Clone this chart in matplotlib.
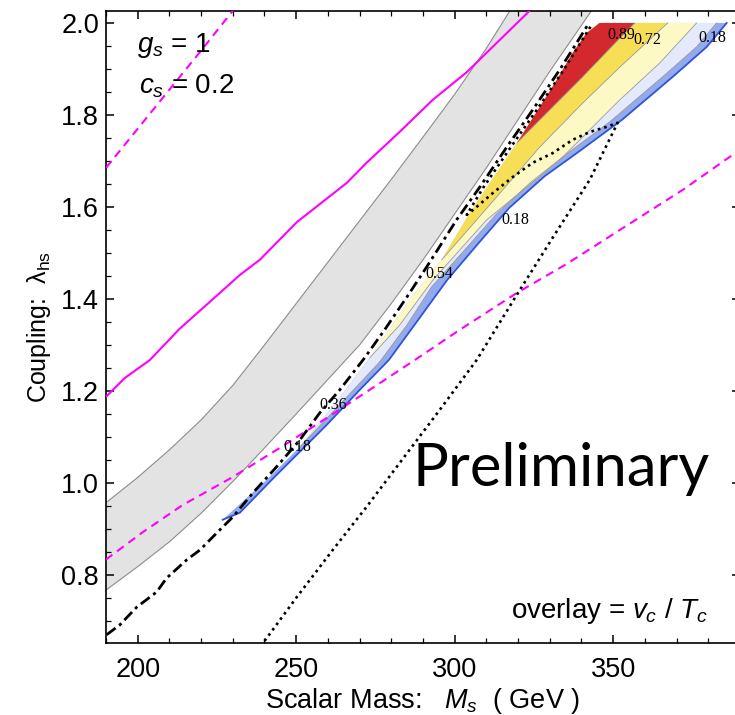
import numpy as np
import matplotlib
matplotlib.use("Agg")
import matplotlib.pyplot as plt

plt.rcParams['font.family'] = ['Liberation Sans', 'DejaVu Sans']
plt.rcParams['mathtext.fontset'] = 'custom'
plt.rcParams['mathtext.rm'] = 'Liberation Sans'
plt.rcParams['mathtext.it'] = 'Liberation Sans:italic'

# gray band (upper / lower edge)
band_up_m = [190, 200, 210, 220, 230, 240, 250, 260, 270, 280, 290, 300, 310, 318]
band_up_l = [0.957, 1.012, 1.072, 1.137, 1.212, 1.30, 1.39, 1.48, 1.57, 1.66, 1.752, 1.845, 1.945, 2.033]
band_lo_m = [190, 200, 210, 220, 230, 240, 250, 260, 270, 280, 290, 300, 310, 320, 330, 340, 345]
band_lo_l = [0.767, 0.818, 0.872, 0.934, 1.003, 1.076, 1.150, 1.225, 1.300, 1.390, 1.485, 1.585, 1.685, 1.79, 1.895, 1.995, 2.045]

# magenta curves
mag_solid_m = [190.1, 195.9, 203.8, 213.2, 225.9, 232.2, 238.5, 250.2, 265.9, 272.2, 282.6, 293.1, 303.8, 314.2, 324.6]
mag_solid_l = [1.188, 1.228, 1.267, 1.335, 1.413, 1.452, 1.485, 1.567, 1.652, 1.696, 1.763, 1.833, 1.893, 1.963, 2.033]
mag_dash_hi_m = [190, 200, 210, 220, 231]
mag_dash_hi_l = [1.685, 1.77, 1.855, 1.94, 2.035]
mag_dash_lo_m = [189.9, 201.6, 214.2, 230.0, 244.8, 259.6, 272.2, 288.9, 301.6, 319.6, 335.3, 352.1, 371.9, 389.9]
mag_dash_lo_l = [0.833, 0.893, 0.952, 1.013, 1.076, 1.141, 1.198, 1.274, 1.333, 1.413, 1.476, 1.550, 1.637, 1.724]

# black dash-dot curve
dd_m = [190.2, 194.3, 199.7, 206.0, 209.1, 215.5, 219.6, 224.9, 230.0, 236.3, 243.8, 251.1, 257.4, 263.7,
        271.6, 277.9, 284.9, 291.2, 300.6, 307.9, 316.4, 324.6, 333.1, 338.5, 342.0]
dd_l = [0.670, 0.691, 0.730, 0.763, 0.793, 0.833, 0.854, 0.891, 0.926, 0.978, 1.035, 1.093, 1.152, 1.202,
        1.272, 1.333, 1.404, 1.470, 1.572, 1.643, 1.730, 1.811, 1.898, 1.957, 1.996]

# black dotted curve
dot_m = [238.8, 250.2, 261.5, 272.2, 282.6, 295.3, 306.9, 319.6, 330.9, 342.6, 351.4,
         347.9, 342.6, 337.2, 330.9, 324.6, 318.3, 312.0, 305.7, 303.8,
         309.1, 317.7, 325.9, 334.4, 339.7, 343.2]
dot_l = [0.645, 0.752, 0.854, 0.948, 1.043, 1.159, 1.267, 1.409, 1.533, 1.659, 1.783,
         1.774, 1.763, 1.746, 1.717, 1.696, 1.665, 1.630, 1.593, 1.583,
         1.643, 1.730, 1.811, 1.898, 1.957, 1.996]

# v_c/T_c contour boundaries
edge_m = [226.8, 240.7, 251.1, 263.1, 273.2, 285.8, 295.9, 304.4, 311.7, 319.6, 326.8, 332.2, 337.2, 341.6, 345.7]
edge_l = [0.920, 1.007, 1.078, 1.180, 1.272, 1.398, 1.485, 1.583, 1.659, 1.739, 1.817, 1.876, 1.935, 1.978, 2.000]
c018_m = [226.8, 232.2, 242.6, 259.6, 270.0, 279.2, 288.0, 297.6, 307.6, 317.2, 328.4, 338.5, 352.7, 368.8, 379.5, 385.8]
c018_l = [0.920, 0.935, 1.009, 1.126, 1.202, 1.267, 1.350, 1.441, 1.522, 1.598, 1.667, 1.717, 1.789, 1.883, 1.948, 2.000]
c036_m = [251.1, 263.7, 276.3, 284.9, 292.7, 303.2, 313.2, 323.7, 334.1, 348.9, 365.6, 376.3, 382.6]
c036_l = [1.078, 1.170, 1.263, 1.343, 1.426, 1.507, 1.585, 1.652, 1.709, 1.785, 1.883, 1.948, 2.000]
c054_m = [273.2, 282.6, 293.1, 310.1, 333.1, 352.1, 364.7, 376.3]
c054_l = [1.272, 1.343, 1.441, 1.572, 1.702, 1.833, 1.913, 2.000]
c072_m = [295.9, 311.0, 326.8, 340.4, 352.1, 367.2]
c072_l = [1.485, 1.604, 1.730, 1.826, 1.904, 2.000]
c089_m = [319.6, 326.8, 340.4, 352.1, 356.8]
c089_l = [1.739, 1.789, 1.883, 1.967, 2.000]

levels = [c018_m, c036_m, c054_m, c072_m, c089_m]
levels_l = [c018_l, c036_l, c054_l, c072_l, c089_l]
band_colors = ['#93aaee', '#e4eafb', '#fdf9c4', '#f6df57', '#d3292e']

fig = plt.figure(figsize=(7.35, 7.15), dpi=100)
ax = fig.add_axes([106/735, 72/715, 634/735, 632/715])
ax.set_xlim(190, 390)
ax.set_ylim(0.652, 2.026)

# gray band
poly_m = band_up_m + band_lo_m[::-1]
poly_l = band_up_l + band_lo_l[::-1]
ax.fill(poly_m, poly_l, color='#e3e3e3', zorder=1, lw=0)
ax.plot(band_up_m, band_up_l, color='#8c8c8c', lw=0.8, zorder=1.5)
ax.plot(band_lo_m, band_lo_l, color='#8c8c8c', lw=0.8, zorder=1.5)

# contour bands
em = np.array(edge_m)
el = np.array(edge_l)
for bm, bl, col in zip(levels, levels_l, band_colors):
    keep = el > bl[0]
    pm = list(bm) + list(em[keep][::-1])
    pl = list(bl) + list(el[keep][::-1])
    ax.fill(pm, pl, color=col, lw=0, zorder=2)
for bm, bl in zip(levels[1:], levels_l[1:]):
    ax.plot(bm, bl, color='#9a9a9a', lw=0.6, zorder=2.2)
ax.plot(c018_m, c018_l, color='#2f55d4', lw=1.3, zorder=2.3)

# magenta lines
ax.plot(mag_solid_m, mag_solid_l, color='#ff00ff', lw=1.5, zorder=3)
ax.plot(mag_dash_hi_m, mag_dash_hi_l, color='#ff00ff', lw=1.5, ls=(0, (4, 2.8)), zorder=3)
ax.plot(mag_dash_lo_m, mag_dash_lo_l, color='#ff00ff', lw=1.5, ls=(0, (4, 2.8)), zorder=3)

# black lines
ax.plot(dd_m, dd_l, color='black', lw=2.0, ls=(0, (4, 1.6, 1.1, 1.6)), zorder=4)
ax.plot(dot_m, dot_l, color='black', lw=1.9, ls=(0, (1.0, 1.5)), zorder=4)

# contour labels
lab_kw = dict(family=['Liberation Serif', 'DejaVu Serif'], fontsize=11.5, ha='center', va='center', zorder=5)
ax.text(352.7, 1.974, '0.89', **lab_kw)
ax.text(360.9, 1.963, '0.72', **lab_kw)
ax.text(381.4, 1.967, '0.18', **lab_kw)
ax.text(319.2, 1.572, '0.18', **lab_kw)
ax.text(295.3, 1.454, '0.54', **lab_kw)
ax.text(261.8, 1.170, '0.36', **lab_kw)
ax.text(250.2, 1.078, '0.18', **lab_kw)

# annotations
fig.text(137/735, 1 - 52/715, r'$g_s$ = 1', fontsize=20, va='baseline')
fig.text(139/735, 1 - 94/715, r'$c_s$ = 0.2', fontsize=20, va='baseline')
fig.text(412/735, 1 - 486/715, 'Preliminary', fontsize=43, va='baseline',
         family=['Lato', 'DejaVu Sans'])
fig.text(708/735, 1 - 618/715, r'overlay = $v_c$ / $T_c$', fontsize=20, va='baseline', ha='right')

# frame and ticks
for s in ax.spines.values():
    s.set_linewidth(1.2)
ax.set_xticks([200, 250, 300, 350])
ax.set_xticks(np.arange(190, 391, 10), minor=True)
ax.set_yticks([0.8, 1.0, 1.2, 1.4, 1.6, 1.8, 2.0])
ax.set_yticks(np.arange(0.7, 2.01, 0.05), minor=True)
ax.set_yticklabels(['0.8', '1.0', '1.2', '1.4', '1.6', '1.8', '2.0'])
ax.tick_params(which='both', direction='in', top=True, right=True, labelsize=19.5)
ax.tick_params(which='major', length=6, width=1.1)
ax.tick_params(which='minor', length=3.5, width=0.9)
ax.tick_params(axis='x', pad=10)
ax.tick_params(axis='y', pad=5)

ax.set_xlabel(r'Scalar Mass:   $M_s$  ( GeV )', fontsize=19.5, labelpad=2)
ax.set_ylabel(r'Coupling:  λ$_{\rm hs}$', fontsize=18, labelpad=6)

fig.savefig('out.png', dpi=100)
